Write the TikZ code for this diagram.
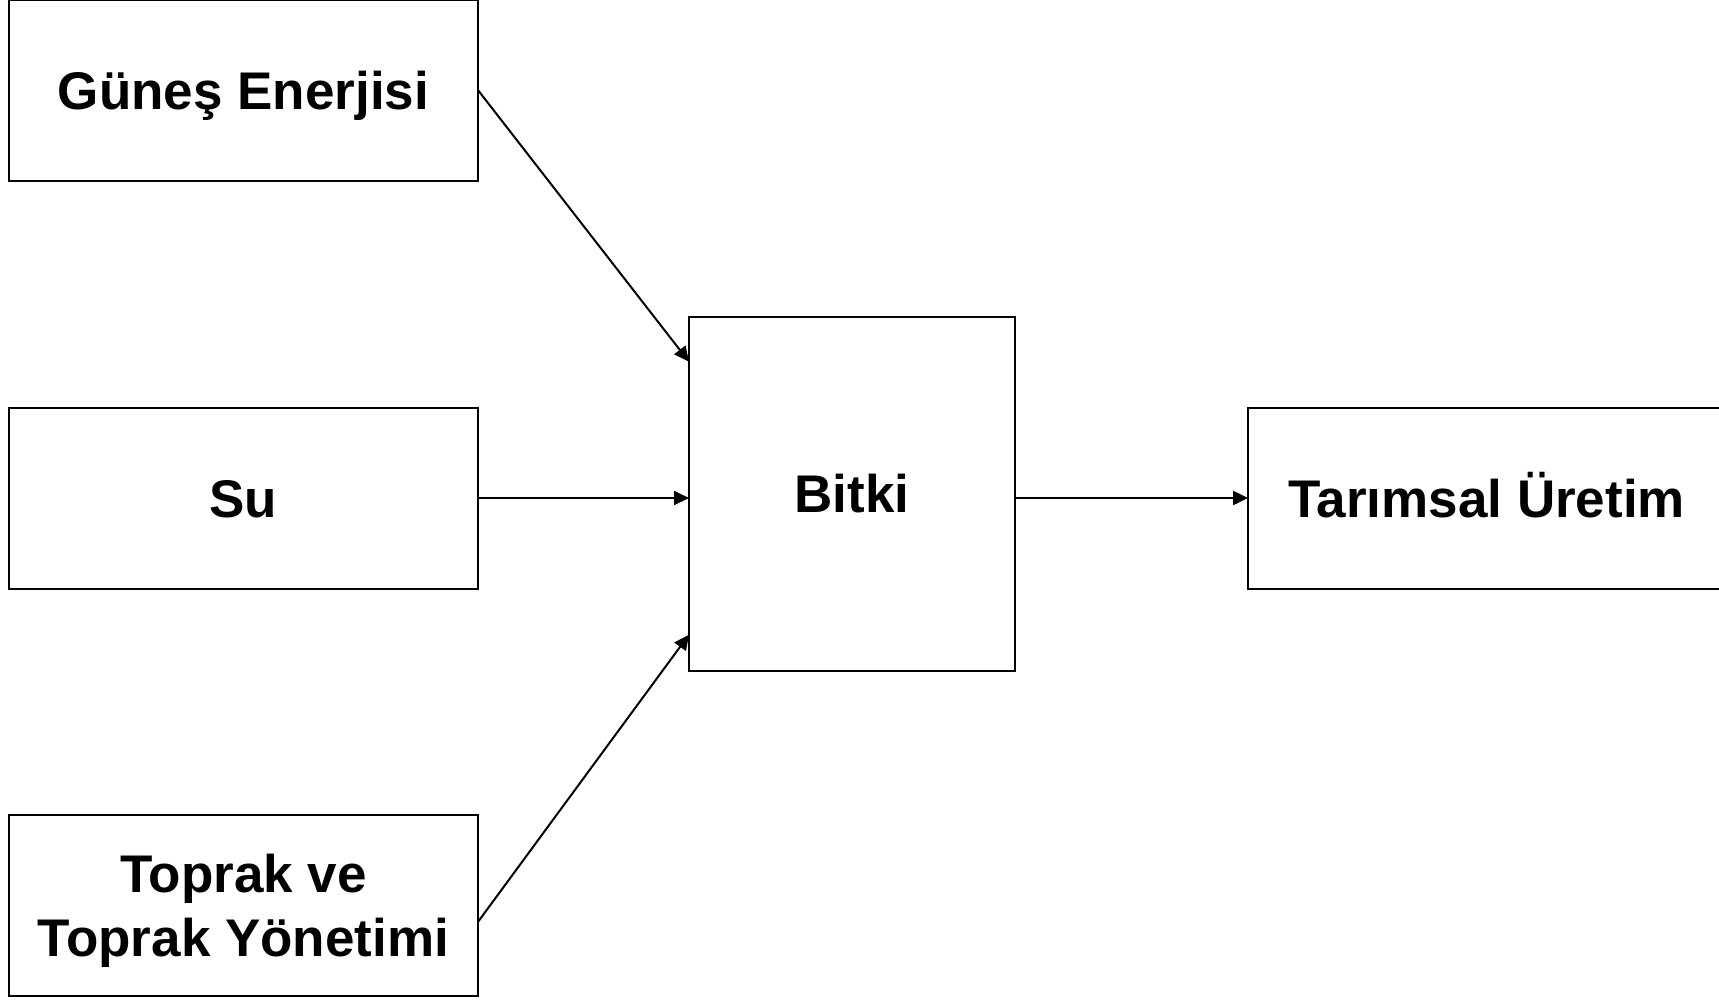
\documentclass[tikz,border=0pt]{standalone}
\usepackage{fontspec}
\setmainfont{Liberation Sans}
\usetikzlibrary{arrows.meta,calc}
\begin{document}
\begin{tikzpicture}[x=1pt,y=-1pt,
  box/.style={draw=black, line width=2pt, inner sep=0pt, outer sep=0pt,
    font=\fontsize{53}{64}\selectfont\bfseries, text height=38pt, text depth=0pt},
  conn/.style={line width=2pt, -{Triangle[length=15pt,width=14pt]}}]
\useasboundingbox (0,0) rectangle (1719,999);
\clip (0,0) rectangle (1719,999);
\fill[white] (0,0) rectangle (1719,999);
\node[box, minimum width=469pt, minimum height=181pt] (gunes) at (243.4,90) {Güneş Enerjisi};
\node[box, minimum width=469pt, minimum height=181pt] (su) at (243.4,498) {Su};
\node[box, minimum width=469pt, minimum height=181pt, align=center, text height=, text depth=0pt] (toprak) at (243.4,905.5) {Toprak ve\\Toprak Yönetimi};
\node[box, minimum width=326pt, minimum height=354pt] (bitki) at (852,493.7) {Bitki};
\node[box, minimum width=477pt, minimum height=181pt] (tar) at (1486.6,498) {Tarımsal Üretim};
\coordinate (b1) at ($(bitki.north west)+(0,45)$);
\coordinate (b3) at ($(bitki.south west)+(0,-36)$);
\coordinate (t3) at ($(toprak.east)+(0,16.5)$);
\draw[conn] (gunes.east) -- (b1);
\draw[conn] (su.east) -- (bitki.west |- su.east);
\draw[conn] (t3) -- (b3);
\draw[conn] (bitki.east |- su.east) -- (tar.west);
\end{tikzpicture}
\end{document}
